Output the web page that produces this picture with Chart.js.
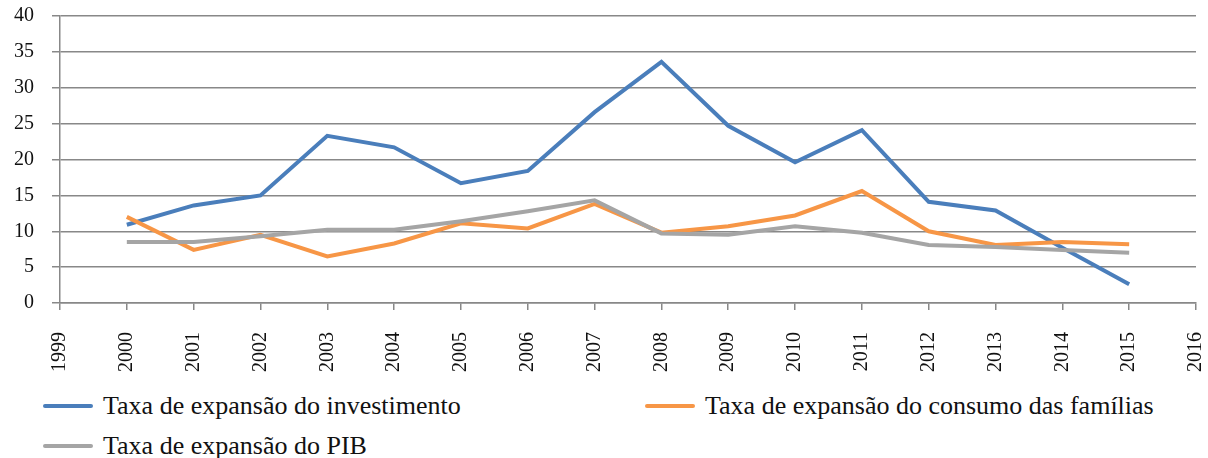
<!DOCTYPE html>
<html>
<head>
<meta charset="utf-8">
<script src="https://cdn.jsdelivr.net/npm/chart.js@4"></script>
<style>
  html, body { margin: 0; padding: 0; background: #fff; }
  #wrap { position: relative; width: 1208px; height: 385px; }
  #legend { position: relative; width: 1208px; height: 73px; font-family: "Liberation Serif", "DejaVu Serif", "Times New Roman", Tinos, "Noto Serif", serif; font-size: 26px; color: #111; }
  .item { position: absolute; height: 30px; display: flex; align-items: center; white-space: nowrap; }
  .swatch { width: 50px; height: 4px; margin-right: 10px; border-radius: 2px; }
</style>
</head>
<body>
<div id="wrap"><canvas id="chart"></canvas></div>
<div id="legend"></div>
<script>
const years = [2000, 2001, 2002, 2003, 2004, 2005, 2006, 2007, 2008, 2009, 2010, 2011, 2012, 2013, 2014, 2015];
const investimento = [10.9, 13.6, 15.0, 23.3, 21.7, 16.7, 18.4, 26.6, 33.6, 24.7, 19.6, 24.1, 14.1, 12.9, 7.7, 2.6];
const consumo = [12.0, 7.4, 9.5, 6.5, 8.3, 11.1, 10.4, 13.8, 9.8, 10.7, 12.2, 15.6, 10.0, 8.1, 8.5, 8.2];
const pib = [8.5, 8.5, 9.3, 10.2, 10.2, 11.4, 12.8, 14.3, 9.7, 9.5, 10.7, 9.8, 8.1, 7.8, 7.4, 7.0];
const labels = ['Taxa de expansão do investimento', 'Taxa de expansão do consumo das famílias', 'Taxa de expansão do PIB'];
const colors = ['#4a7ebb', '#f79646', '#a5a5a5'];

const pts = arr => arr.map((v, i) => ({ x: years[i], y: v }));
const series = [investimento, consumo, pib];

const serifFamily = '"Liberation Serif", "DejaVu Serif", "Times New Roman", Tinos, "Noto Serif", serif';
const tickFont = { family: serifFamily, size: 20 };

new Chart(document.getElementById('chart'), {
    type: 'line',
    data: {
        datasets: series.map((s, i) => ({
            label: labels[i], data: pts(s), borderColor: colors[i], backgroundColor: colors[i],
            borderWidth: 4, pointRadius: 0, tension: 0, order: 3 - i
        }))
    },
    options: {
        responsive: true, maintainAspectRatio: false, animation: false,
        layout: { padding: { top: 16, right: 12, left: 0, bottom: 0 } },
        plugins: { legend: { display: false }, tooltip: { enabled: false } },
        scales: {
            x: {
                type: 'linear', min: 1999, max: 2016,
                afterFit: s => { s.height = 82; s.paddingRight = 0; s.paddingLeft = 0; },
                ticks: { stepSize: 1, autoSkip: false, maxRotation: 90, minRotation: 90, color: '#111', font: tickFont, padding: 22, callback: v => String(v) },
                grid: { drawOnChartArea: false, drawTicks: true, tickLength: 7, color: '#888', lineWidth: 1.5 },
                border: { color: '#888', width: 1.5 }
            },
            y: {
                min: 0, max: 40,
                afterFit: s => { s.width = 60; s.paddingTop = 0; s.paddingBottom = 0; },
                ticks: { stepSize: 5, color: '#111', font: tickFont, padding: 18 },
                grid: { color: '#888', lineWidth: 1.5, tickLength: 8 },
                border: { color: '#888', width: 1.5 }
            }
        }
    }
});

const lg = document.getElementById('legend');
const pos = [[43, 406], [645, 406], [43, 446]];
labels.forEach((t, i) => {
    const d = document.createElement('div');
    d.className = 'item';
    d.style.left = pos[i][0] + 'px';
    d.style.top = (pos[i][1] - 385 - 15) + 'px';
    d.innerHTML = `<span class="swatch" style="background:${colors[i]}"></span><span>${t}</span>`;
    lg.appendChild(d);
});
</script>
</body>
</html>
